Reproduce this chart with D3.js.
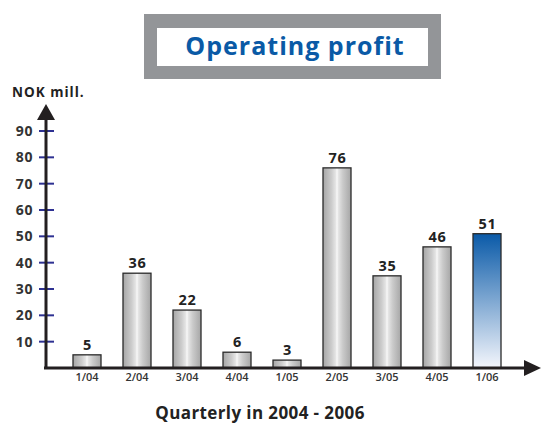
<!DOCTYPE html>
<html>
<head>
<meta charset="utf-8">
<script src="https://cdn.jsdelivr.net/npm/d3@7"></script>
<style>
    body { margin: 0; background: #fff; }
    text { font-family: "Open Sans", "Noto Sans", sans-serif; }
</style>
</head>
<body>
<script>
(function() {

    //chart data
    var quarters = ["1/04", "2/04", "3/04", "4/04", "1/05", "2/05", "3/05", "4/05", "1/06"];
    var profit = [5, 36, 22, 6, 3, 76, 35, 46, 51];
    var yTicks = [10, 20, 30, 40, 50, 60, 70, 80, 90];

    var width = 542, height = 424;

    var svg = d3.select("body")
        .append("svg")
        .attr("width", width)
        .attr("height", height);

    //gradients for the bars
    var defs = svg.append("defs");
    var grey = defs.append("linearGradient")
        .attr("id", "greyBar")
        .attr("x1", "0").attr("x2", "1").attr("y1", "0").attr("y2", "0");
    [[0, "#a6a6a6"], [0.3, "#cbcbcb"], [0.47, "#e8e8e8"], [0.5, "#ffffff"], [0.53, "#e8e8e8"], [0.7, "#cbcbcb"], [1, "#a6a6a6"]]
        .forEach(function(s) {
            grey.append("stop").attr("offset", s[0]).attr("stop-color", s[1]);
        });
    var blue = defs.append("linearGradient")
        .attr("id", "blueBar")
        .attr("x1", "0").attr("x2", "0").attr("y1", "0").attr("y2", "1");
    blue.append("stop").attr("offset", 0).attr("stop-color", "#0a5aa8");
    blue.append("stop").attr("offset", 1).attr("stop-color", "#f4f6fc");

    //title box
    svg.append("rect")
        .attr("x", 144).attr("y", 14)
        .attr("width", 297).attr("height", 65)
        .style("fill", "#939598");
    svg.append("rect")
        .attr("x", 157).attr("y", 28)
        .attr("width", 271).attr("height", 38)
        .style("fill", "#fff");
    svg.append("text")
        .attr("x", 295).attr("y", 55)
        .attr("text-anchor", "middle")
        .style("font-size", "25px")
        .style("font-weight", "bold")
        .style("letter-spacing", "1px")
        .style("fill", "#0a5aa6")
        .text("Operating profit");

    //scales
    var x = d3.scaleBand()
        .domain(quarters)
        .range([62, 512])
        .paddingInner(0.44)
        .paddingOuter(0.22);

    var y = d3.scaleLinear()
        .domain([0, 90])
        .range([368, 131]);

    //bars
    svg.selectAll(".bar")
        .data(profit)
        .enter()
        .append("rect")
        .attr("class", "bar")
        .attr("x", (d, i) => x(quarters[i]))
        .attr("y", d => y(d))
        .attr("width", x.bandwidth())
        .attr("height", d => y(0) - y(d))
        .style("fill", (d, i) => i === quarters.length - 1 ? "url(#blueBar)" : "url(#greyBar)")
        .style("stroke", "#2a2a2a")
        .style("stroke-width", 1.3);

    //value labels
    svg.selectAll(".numbers")
        .data(profit)
        .enter()
        .append("text")
        .attr("class", "numbers")
        .attr("text-anchor", "middle")
        .attr("x", (d, i) => x(quarters[i]) + x.bandwidth() / 2 + 0.5)
        .attr("y", d => y(d) - 5)
        .style("font-size", "14.5px")
        .style("font-weight", "bold")
        .style("letter-spacing", "0.6px")
        .style("fill", "#222")
        .text(d => d);

    //y axis with ticks
    var yAxis = d3.axisLeft(y)
        .tickValues(yTicks)
        .tickSize(0)
        .tickPadding(13);

    var axis = svg.append("g")
        .attr("transform", "translate(46,0)")
        .call(yAxis);
    axis.select(".domain").remove();
    axis.selectAll("text")
        .style("font-size", "14px")
        .style("font-weight", "bold")
        .style("letter-spacing", "0.6px")
        .style("fill", "#333")
        .style("font-family", "'Open Sans', sans-serif");

    svg.selectAll(".ytick")
        .data(yTicks)
        .enter()
        .append("line")
        .attr("class", "ytick")
        .attr("x1", 39).attr("x2", 54)
        .attr("y1", d => y(d)).attr("y2", d => y(d))
        .style("stroke", "#2e3192")
        .style("stroke-width", 2);

    //axis lines with arrows
    svg.append("line")
        .attr("x1", 46).attr("x2", 46)
        .attr("y1", y(0) + 1).attr("y2", 118)
        .style("stroke", "#231f20")
        .style("stroke-width", 3);
    svg.append("path")
        .attr("d", "M46,104 L37,120 L55,120 Z")
        .style("fill", "#231f20");

    svg.append("line")
        .attr("x1", 44).attr("x2", 526)
        .attr("y1", y(0)).attr("y2", y(0))
        .style("stroke", "#231f20")
        .style("stroke-width", 3);
    svg.append("path")
        .attr("d", "M541," + y(0) + " L524," + (y(0) - 8) + " L524," + (y(0) + 8) + " Z")
        .style("fill", "#231f20");

    //x labels
    svg.selectAll(".xlabel")
        .data(quarters)
        .enter()
        .append("text")
        .attr("class", "xlabel")
        .attr("text-anchor", "middle")
        .attr("x", d => x(d) + x.bandwidth() / 2)
        .attr("y", 381)
        .style("font-size", "11px")
        .style("font-weight", "600")
        .style("fill", "#333")
        .text(d => d);

    //axis titles
    svg.append("text")
        .attr("x", 12).attr("y", 97)
        .style("font-size", "13.5px")
        .style("font-weight", "bold")
        .style("letter-spacing", "1px")
        .style("fill", "#222")
        .text("NOK mill.");

    svg.append("text")
        .attr("x", 260).attr("y", 419)
        .attr("text-anchor", "middle")
        .style("font-size", "17px")
        .style("font-weight", "bold")
        .style("letter-spacing", "0.4px")
        .style("fill", "#222")
        .text("Quarterly in 2004 - 2006");

})();
</script>
</body>
</html>
